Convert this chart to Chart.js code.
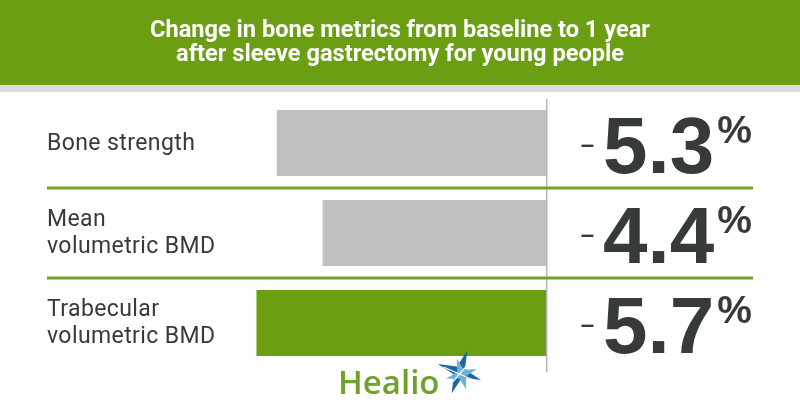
<!DOCTYPE html>
<html><head><meta charset="utf-8">
<script src="https://cdn.jsdelivr.net/npm/chart.js@4.4.1/dist/chart.umd.min.js"></script>
<style>html,body{margin:0;padding:0;background:#fff;}#wrap{width:800px;height:420px;position:relative;}</style>
</head><body><div id="wrap"><canvas id="c" width="800" height="420"></canvas></div>
<script>
// ---- data ----
const titleLines = ['Change in bone metrics from baseline to 1 year', 'after sleeve gastrectomy for young people'];
const categories = [['Bone strength'], ['Mean', 'volumetric BMD'], ['Trabecular', 'volumetric BMD']];
const values = [-5.3, -4.4, -5.7];
const highlightIndex = 2;
const axisMin = -10, axisMax = 0;
const brandName = 'Healio';

// ---- styles ----
const GREEN = '#6b9e12';
const LINE_GREEN = '#72a22a';
const GRAY_BAR = '#c0c0c0';
const TEXT_DARK = '#363a3b';

const decor = {
  id: 'decor',
  beforeDraw(chart) {
    const ctx = chart.ctx;
    ctx.save();
    ctx.fillStyle = '#ffffff';
    ctx.fillRect(0, 0, 800, 420);
    ctx.fillStyle = GREEN;
    ctx.fillRect(0, 0, 800, 85);
    ctx.fillStyle = '#dcdcdc';
    ctx.fillRect(0, 85, 800, 7);
    // title
    ctx.fillStyle = '#ffffff';
    ctx.textAlign = 'center';
    ctx.textBaseline = 'alphabetic';
    ctx.font = "bold 23px Roboto, 'Liberation Sans', sans-serif";
    const targets = [500, 448];
    const baselines = [37, 61];
    titleLines.forEach((t, i) => {
      const w = ctx.measureText(t).width;
      const s = targets[i] / w;
      ctx.save();
      ctx.translate(400, baselines[i]);
      ctx.scale(s, 1);
      ctx.fillText(t, 0, 0);
      ctx.restore();
    });
    ctx.restore();
  },
  afterDatasetsDraw(chart) {
    const ctx = chart.ctx;
    const xs = chart.scales.x, ys = chart.scales.y;
    const x0 = xs.getPixelForValue(0);
    ctx.save();
    // zero line
    ctx.strokeStyle = '#b4b4b4';
    ctx.lineWidth = 1.5;
    ctx.beginPath();
    ctx.moveTo(x0, 99);
    ctx.lineTo(x0, 372);
    ctx.stroke();
    // separators between categories
    ctx.strokeStyle = LINE_GREEN;
    ctx.lineWidth = 3;
    for (let i = 0; i < categories.length - 1; i++) {
      const y = (ys.getPixelForValue(i) + ys.getPixelForValue(i + 1)) / 2;
      ctx.beginPath();
      ctx.moveTo(47, y);
      ctx.lineTo(753, y);
      ctx.stroke();
    }
    // category labels
    ctx.fillStyle = TEXT_DARK;
    ctx.textAlign = 'left';
    ctx.textBaseline = 'middle';
    ctx.font = "23px Roboto, 'Noto Sans', sans-serif";
    ctx.letterSpacing = '0.4px';
    const lh = 27;
    categories.forEach((lines, i) => {
      const cy = ys.getPixelForValue(i) + 1;
      const top = cy - (lines.length - 1) * lh / 2;
      lines.forEach((ln, j) => ctx.fillText(ln, 47, top + j * lh));
    });
    ctx.letterSpacing = '0px';
    // value labels
    values.forEach((v, i) => {
      const cy = ys.getPixelForValue(i);
      const num = Math.abs(v).toFixed(1);
      const right = 752;
      ctx.textBaseline = 'alphabetic';
      ctx.textAlign = 'right';
      ctx.font = "bold 39px 'Liberation Sans', Arial, sans-serif";
      ctx.fillText('%', right, cy + 0);
      const pw = ctx.measureText('%').width;
      ctx.font = "bold 80px 'Liberation Sans', Arial, sans-serif";
      const nRight = right - pw - 3;
      ctx.fillText(num, nRight, cy + 30);
      const nw = ctx.measureText(num).width;
      ctx.font = "bold 24px 'Liberation Sans', Arial, sans-serif";
      ctx.fillText('\u2013', nRight - nw - 9, cy + 9);
    });
    // brand
    ctx.fillStyle = '#6fa12b';
    ctx.textAlign = 'left';
    ctx.textBaseline = 'alphabetic';
    ctx.font = "600 33px 'Open Sans', Lato, sans-serif";
    ctx.fillText(brandName, 338, 394);
    const bw = ctx.measureText(brandName).width;
    // star mark
    const sx = 338 + bw + 20, sy = 374;
    const star = (cx, cy, r, ri, rot, color) => {
      ctx.beginPath();
      for (let k = 0; k < 8; k++) {
        const a = rot + k * Math.PI / 4;
        const rr = k % 2 === 0 ? r : ri;
        const px = cx + Math.cos(a) * rr, py = cy + Math.sin(a) * rr;
        if (k === 0) ctx.moveTo(px, py); else ctx.lineTo(px, py);
      }
      ctx.closePath();
      ctx.fillStyle = color;
      ctx.fill();
    };
    star(sx, sy - 2, 23, 6, -Math.PI / 2 + 0.35, '#1f65a3');
    star(sx + 2, sy, 16, 5, -Math.PI / 2 - 0.3, '#6fb0d8');
    ctx.strokeStyle = '#ffffff';
    ctx.lineWidth = 1.2;
    ctx.beginPath();
    ctx.moveTo(sx - 14, sy + 16); ctx.lineTo(sx + 14, sy - 16);
    ctx.moveTo(sx - 16, sy - 7); ctx.lineTo(sx + 16, sy + 7);
    ctx.stroke();
    ctx.restore();
  }
};

new Chart(document.getElementById('c'), {
  type: 'bar',
  data: {
    labels: categories,
    datasets: [{
      data: values,
      backgroundColor: ctx => ctx.dataIndex === highlightIndex ? GREEN : GRAY_BAR,
      borderWidth: 0,
      barPercentage: 1,
      categoryPercentage: 66 / 90
    }]
  },
  options: {
    indexAxis: 'y',
    responsive: false,
    animation: false,
    devicePixelRatio: 1,
    layout: { padding: { left: 37.5, right: 253.3, top: 98, bottom: 52 } },
    scales: {
      x: { min: axisMin, max: axisMax, display: false },
      y: { display: false }
    },
    plugins: { legend: { display: false }, tooltip: { enabled: false }, title: { display: false } }
  },
  plugins: [decor]
});
</script>
</body></html>
